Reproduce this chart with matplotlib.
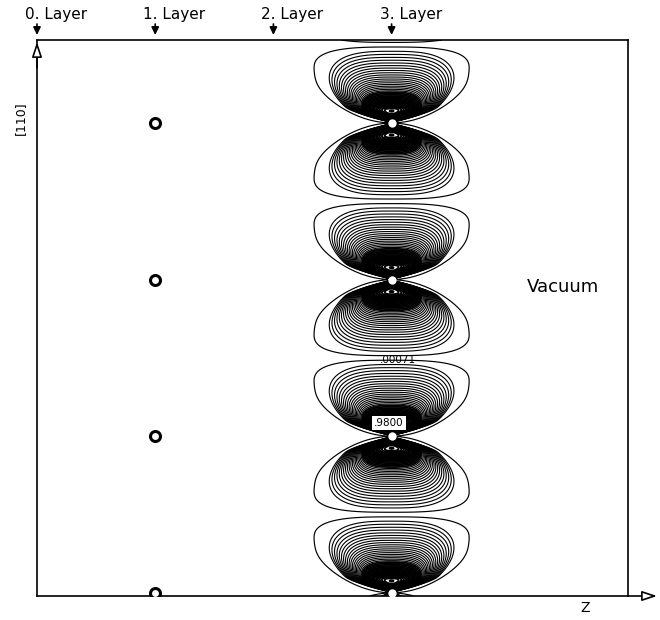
import numpy as np
import matplotlib.pyplot as plt

# Lagen in z-Richtung und Atomreihen entlang [110]
layer_z = [0, 1, 2, 3]
layer_names = ['0. Layer', '1. Layer', '2. Layer', '3. Layer']
atom_rows = [0, 1, 2, 3]
contour_layer = 3          # Lage mit den Dichte-Konturen
open_layer = 1             # Lage mit den offenen Kreisen
level_lo, level_hi = 0.00071, 0.98
n_levels = 38
label_text = ['.00071', '.9800']
label_z = [3.05, 2.975]
label_y = [1.49, 1.083]

z_lim = (0, 5)
y_lim = (-0.02, 3.53)

W, H = 660, 620
ax_px = [37, 24, 591, 556]   # links, unten, breite, hoehe in Pixel
px_z = ax_px[2] / (z_lim[1] - z_lim[0])
px_y = ax_px[3] / (y_lim[1] - y_lim[0])

# Form der Keulen (in Pixel, relativ zum Atom)
se_half_w, se_center, se_up, se_down = 78.0, 52.0, 24.0, 60.0
pb_c = 0.006
peak_dy = 12.0
peak_val = 1.0
top2 = 71.7            # Scheitel der zweiten Kontur


def lobe_gauge(x, dy):
    # aeussere Kontur: gauge == 1
    by = np.where(dy >= se_center, se_up, se_down)
    se = ((np.abs(x) / se_half_w) ** 3 + (np.abs(dy - se_center) / by) ** 3) ** (1 / 3)
    pb = (pb_c * x ** 2 + 2.0) / np.maximum(dy + 2.0, 1e-3)
    return (se ** 8 + pb ** 8) ** (1 / 8)


def inner_density(dx, dy, p, r1):
    r = np.hypot(dx, dy)
    core = np.exp(-(r / 28.0) ** 2)
    sx = 1.38 + 0.9 * core
    n = 3.0 - core
    u = np.abs(dx) / sx
    re = (u ** n + dy ** n) ** (1 / n) + 1e-9
    h = -np.expm1(-(dy / r1) ** 6)
    return dy ** p * re ** (-2 * p) * h


levels = np.geomspace(level_lo, level_hi, n_levels)
lq = np.log(levels[1] / levels[0])
tg = np.linspace(0.01, 3, 30000)
ax_dy = np.linspace(1, 80, 4000)


def model(shrink):
    p = lq / -np.log(shrink)
    t_pk = tg[np.argmin(np.abs(6 * tg / np.expm1(tg) - p))]
    r1 = peak_dy / t_pk ** (1 / 6)
    K = levels[1] / inner_density(np.array(0.0), np.array(top2), p, r1)
    return p, r1, K, K * inner_density(np.zeros_like(ax_dy), ax_dy, p, r1).max()


shrinks = np.linspace(0.94, 0.975, 351)
best = min(shrinks, key=lambda s: abs(model(s)[3] - peak_val))
p, r1, K, _ = model(best)

zz = np.linspace(contour_layer - 1.0, contour_layer + 1.0, 620)
yy = np.linspace(y_lim[0], y_lim[1], 1450)
Z, Y = np.meshgrid(zz, yy)
dx = (Z - contour_layer) * px_z
dy = np.abs(Y - np.round(Y)) * px_y

outer = lobe_gauge(dx, dy)
dens = K * inner_density(dx, dy, p, r1)

fig = plt.figure(figsize=(W / 100, H / 100), dpi=100)
ax = fig.add_axes([ax_px[0] / W, ax_px[1] / H, ax_px[2] / W, ax_px[3] / H])
ax.contour(Z, Y, outer, levels=[1.0], colors='black', linewidths=0.85)
# innere Konturen im Kern etwas dicker, damit er wie im Original schwarz wirkt
lws = np.where(levels[1:] > 0.03, 1.3, 0.8)
ax.contour(Z, Y, dens, levels=levels[1:], colors='black', linewidths=lws)

ax.plot([contour_layer] * len(atom_rows), atom_rows, 'o', ms=6, mfc='white',
        mec='none', zorder=3)
ax.plot([open_layer] * len(atom_rows), atom_rows, 'o', ms=7.2, mfc='white',
        mec='black', mew=2.2, zorder=3)

for t, x, y in zip(label_text, label_z, label_y):
    bb = dict(fc='white', ec='none', pad=1.5) if t == '.9800' else None
    ax.text(x, y, t, fontsize=7.5, ha='center', va='center', bbox=bb, zorder=4)

ax.set_xlim(z_lim)
ax.set_ylim(y_lim)
ax.set_xticks([])
ax.set_yticks([])
for sp in ax.spines.values():
    sp.set_linewidth(1.2)

# Lagen-Beschriftung mit Pfeilen
for z, name in zip(layer_z, layer_names):
    ax.annotate(name, xy=(z, 1), xycoords=('data', 'axes fraction'),
                xytext=(-12 * 0.72, 25 * 0.72), textcoords='offset points',
                ha='left', va='center', fontsize=11)
    ax.annotate('', xy=(z, y_lim[1] + 5 / px_y), xycoords='data',
                xytext=(0, 11 * 0.72), textcoords='offset points',
                arrowprops=dict(arrowstyle='-|>,head_length=0.45,head_width=0.22',
                                color='black', lw=1.2, shrinkA=0, shrinkB=0),
                annotation_clip=False)

# Achsenpfeile
ax.annotate('', xy=(1 + 29 / ax_px[2], 0), xytext=(1, 0),
            xycoords='axes fraction',
            arrowprops=dict(arrowstyle='-|>,head_length=0.9,head_width=0.3',
                            fc='white', ec='black', lw=1.2, shrinkA=0, shrinkB=0),
            annotation_clip=False)
ax.annotate('', xy=(0, 1 - 2 / ax_px[3]), xytext=(0, 0.95),
            xycoords='axes fraction',
            arrowprops=dict(arrowstyle='-|>,head_length=0.9,head_width=0.3',
                            fc='white', ec='black', lw=1.2, shrinkA=0, shrinkB=0),
            annotation_clip=False)

ax.text((585 - ax_px[0]) / ax_px[2], -12 / ax_px[3], 'Z', transform=ax.transAxes,
        ha='center', va='center', fontsize=10)
ax.text(-17 / ax_px[2], (596 - 118) / ax_px[3], '[110]', transform=ax.transAxes,
        ha='center', va='center', fontsize=9, rotation=90)
ax.text((563 - ax_px[0]) / ax_px[2], (596 - 287) / ax_px[3], 'Vacuum',
        transform=ax.transAxes, ha='center', va='center', fontsize=13)

fig.savefig('out.png', dpi=100)
